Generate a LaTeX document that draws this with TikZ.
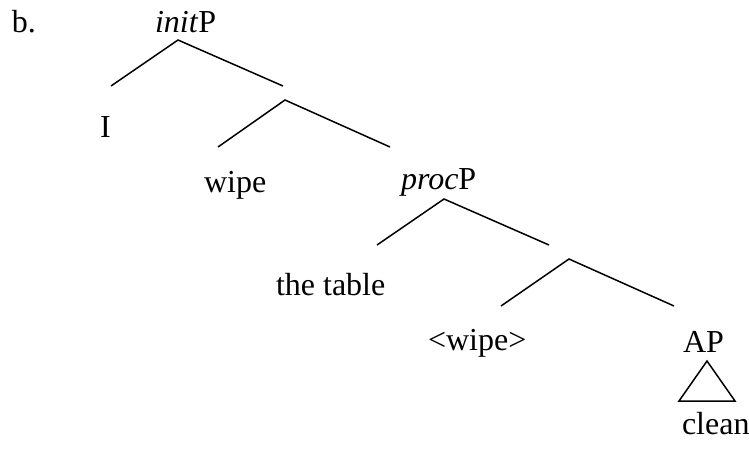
\documentclass[tikz,border=0pt]{standalone}
\usepackage{fontspec}
\setmainfont{Liberation Serif}
\begin{document}
\begin{tikzpicture}[x=1pt,y=-1pt,
  lbl/.style={anchor=base west,inner sep=0pt,outer sep=0pt,font=\fontsize{32}{38}\selectfont},
  branch/.style={line width=1.5pt}]
\useasboundingbox (0,0) rectangle (749,450);
% labels
\node[lbl] (b) at (12,32) {b.};
\node[lbl] (init) at (155,32) {\textit{init}P};
\node[lbl] (I) at (100,137) {I};
\node[lbl] (wipe) at (204,192) {wipe};
\node[lbl] (proc) at (401,189) {\textit{proc}P};
\node[lbl] (table) at (276,295) {the table};
\node[lbl] (twipe) at (428,350) {<wipe>};
\node[lbl] (AP) at (683,352) {AP};
\node[lbl] (clean) at (682,434) {clean};
% branch points
\coordinate (a1) at (178,40);
\coordinate (a1l) at (111,86);
\coordinate (a1r) at (283,86);
\coordinate (a2) at (285,100);
\coordinate (a2l) at (218,147);
\coordinate (a2r) at (390,147);
\coordinate (a3) at (444,199);
\coordinate (a3l) at (377,245);
\coordinate (a3r) at (549,245);
\coordinate (a4) at (569,259);
\coordinate (a4l) at (501,306);
\coordinate (a4r) at (674,306);
\coordinate (t1) at (707,361);
\coordinate (t2) at (679,401);
\coordinate (t3) at (735,401);
\draw[branch] (a1l) -- (a1) -- (a1r);
\draw[branch] (a2l) -- (a2) -- (a2r);
\draw[branch] (a3l) -- (a3) -- (a3r);
\draw[branch] (a4l) -- (a4) -- (a4r);
\draw[branch,line join=miter] (t1) -- (t2) -- (t3) -- cycle;
\end{tikzpicture}
\end{document}
